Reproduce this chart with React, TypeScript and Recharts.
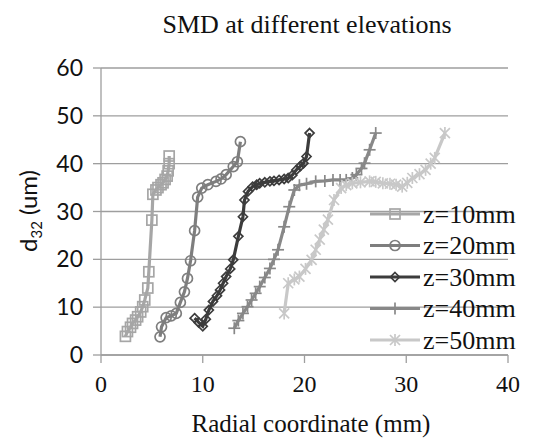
import React from "react";
import { LineChart, Line, XAxis, YAxis, CartesianGrid } from "recharts";

const xTicks = [0, 10, 20, 30, 40];
const yTicks = [0, 10, 20, 30, 40, 50, 60];

const seriesNames = ["z=10mm", "z=20mm", "z=30mm", "z=40mm", "z=50mm"];
const seriesColors = ["#a6a6a6", "#7e7e7e", "#3c3c3c", "#888888", "#c8c8c8"];

const z10x = [2.4, 2.6, 2.9, 3.1, 3.4, 3.6, 3.9, 4.1, 4.3, 4.6, 4.7, 5.0, 5.1, 5.4, 5.6, 5.9, 6.1, 6.3, 6.5, 6.6, 6.7, 6.7];
const z10y = [3.9, 4.9, 5.8, 6.6, 7.3, 8.0, 9.0, 10.1, 11.5, 14.0, 17.4, 28.2, 33.6, 34.5, 35.0, 35.6, 36.0, 36.7, 37.4, 38.5, 40.0, 41.6];

const z20x = [5.8, 5.95, 6.4, 6.9, 7.4, 7.8, 8.2, 8.5, 8.8, 9.2, 9.5, 9.9, 10.5, 11.3, 11.8, 12.3, 13.0, 13.4, 13.7];
const z20y = [3.8, 5.9, 7.8, 8.2, 8.7, 11.0, 13.2, 16.0, 19.7, 26.0, 33.0, 34.9, 35.6, 36.3, 36.8, 37.7, 39.4, 40.4, 44.6];

const z30x = [9.2, 9.6, 10.0, 10.3, 10.6, 11.0, 11.4, 11.7, 12.0, 12.3, 12.7, 13.0, 13.5, 13.95, 14.1, 14.45, 14.9, 15.3, 15.6, 16.1, 16.6, 17.0, 17.5, 18.0, 18.4, 18.8, 19.2, 19.6, 19.9, 20.2, 20.5];
const z30y = [7.7, 6.8, 6.0, 7.5, 9.4, 11.2, 12.4, 13.6, 15.0, 16.4, 18.0, 19.9, 24.8, 28.9, 32.4, 34.2, 35.2, 35.6, 35.9, 36.1, 36.3, 36.4, 36.6, 36.8, 37.0, 37.6, 38.7, 39.5, 40.1, 41.5, 46.4];

const z40x = [13.1, 13.5, 13.95, 14.4, 14.8, 15.2, 15.6, 16.1, 16.6, 17.0, 17.4, 18.0, 18.5, 19.0, 19.5, 20.2, 21.1, 22.0, 22.8, 23.5, 24.1, 24.7, 25.1, 25.6, 25.9, 26.4, 27.0];
const z40y = [5.6, 7.2, 8.7, 10.1, 11.5, 12.9, 14.3, 16.2, 18.1, 20.0, 22.0, 26.8, 31.0, 34.5, 35.5, 35.8, 36.3, 36.4, 36.6, 36.6, 36.6, 37.0, 37.7, 39.0, 40.1, 42.9, 46.4];

const z50x = [18.0, 18.4, 19.0, 19.5, 20.1, 20.7, 21.1, 21.5, 21.9, 22.3, 22.9, 23.6, 24.1, 24.7, 25.5, 26.4, 27.0, 27.7, 28.4, 29.0, 29.6, 30.1, 30.6, 31.3, 31.9, 32.4, 32.8, 33.8];
const z50y = [8.7, 15.0, 15.8, 16.4, 18.0, 19.9, 22.0, 24.1, 26.2, 28.3, 32.4, 34.9, 35.5, 35.9, 36.1, 36.3, 36.2, 35.9, 35.8, 35.6, 35.2, 36.0, 37.0, 37.8, 38.7, 40.0, 41.2, 46.4];

const toData = (xs: number[], ys: number[]) => xs.map((x, i) => ({ x, y: ys[i] }));

const seriesData = [
  toData(z10x, z10y),
  toData(z20x, z20y),
  toData(z30x, z30y),
  toData(z40x, z40y),
  toData(z50x, z50y),
];

type MarkerKind = "square" | "circle" | "diamond" | "plus" | "star";
const markerKinds: MarkerKind[] = ["square", "circle", "diamond", "plus", "star"];

function Marker({ kind, cx, cy, color }: { kind: MarkerKind; cx: number; cy: number; color: string }) {
  const sw = 1.7;
  switch (kind) {
    case "square":
      return <rect x={cx - 5} y={cy - 5} width={10} height={10} fill="none" stroke={color} strokeWidth={sw} />;
    case "circle":
      return <circle cx={cx} cy={cy} r={5} fill="none" stroke={color} strokeWidth={sw} />;
    case "diamond":
      return (
        <polygon
          points={`${cx},${cy - 4.5} ${cx + 4.5},${cy} ${cx},${cy + 4.5} ${cx - 4.5},${cy}`}
          fill="none"
          stroke={color}
          strokeWidth={sw}
        />
      );
    case "plus":
      return (
        <g stroke={color} strokeWidth={sw}>
          <line x1={cx - 6} y1={cy} x2={cx + 6} y2={cy} />
          <line x1={cx} y1={cy - 6} x2={cx} y2={cy + 6} />
        </g>
      );
    case "star":
    default:
      return (
        <g stroke={color} strokeWidth={sw}>
          <line x1={cx - 5} y1={cy - 5} x2={cx + 5} y2={cy + 5} />
          <line x1={cx - 5} y1={cy + 5} x2={cx + 5} y2={cy - 5} />
          <line x1={cx} y1={cy - 6} x2={cx} y2={cy + 6} />
        </g>
      );
  }
}

const makeDot = (kind: MarkerKind, color: string) => (props: any) => {
  const { cx, cy, index } = props;
  if (cx == null || cy == null) return <g key={`e-${index}`} />;
  return (
    <g key={`d-${kind}-${index}`}>
      <Marker kind={kind} cx={cx} cy={cy} color={color} />
    </g>
  );
};

const serif = "'Liberation Serif', 'Times New Roman', 'DejaVu Serif', serif";
const sans = "Lato, 'Liberation Sans', sans-serif";

export default function App() {
  const legendTop = [214, 245.5, 277, 308.5, 340];
  return (
    <div style={{ position: "relative", width: 542, height: 443, background: "#fff" }}>
      <style>{`body{margin:0;background:#fff}`}</style>
      <LineChart
        width={542}
        height={443}
        margin={{ top: 68, right: 34, left: 0, bottom: 0 }}
      >
        <CartesianGrid vertical={false} stroke="#9e9e9e" strokeWidth={1.3} />
        <XAxis
          type="number"
          dataKey="x"
          domain={[0, 40]}
          ticks={xTicks}
          allowDataOverflow
          height={88}
          tickSize={8}
          tickMargin={12}
          axisLine={{ stroke: "#9e9e9e", strokeWidth: 1.3 }}
          tickLine={{ stroke: "#9e9e9e", strokeWidth: 1.3 }}
          tick={{ fill: "#111", fontSize: 24, fontFamily: serif }}
        />
        <YAxis
          type="number"
          dataKey="y"
          domain={[0, 60]}
          ticks={yTicks}
          width={101}
          tickSize={8}
          tickMargin={10}
          axisLine={{ stroke: "#9e9e9e", strokeWidth: 1.3 }}
          tickLine={{ stroke: "#9e9e9e", strokeWidth: 1.3 }}
          tick={{ fill: "#111", fontSize: 23, fontFamily: sans }}
        />
        {seriesData.map((d, i) => (
          <Line
            key={seriesNames[i]}
            data={d}
            dataKey="y"
            name={seriesNames[i]}
            type="linear"
            stroke={seriesColors[i]}
            strokeWidth={3.2}
            dot={makeDot(markerKinds[i], seriesColors[i])}
            activeDot={false}
            isAnimationActive={false}
          />
        ))}
      </LineChart>
      <svg
        width={542}
        height={443}
        style={{ position: "absolute", left: 0, top: 0, pointerEvents: "none" }}
      >
        <text x={307} y={33} textAnchor="middle" fontSize={26} fontFamily={serif} fill="#111">
          SMD at different elevations
        </text>
        <text x={311} y={432} textAnchor="middle" fontSize={25} fontFamily={serif} fill="#111">
          Radial coordinate (mm)
        </text>
        <text
          transform="translate(37,211) rotate(-90)"
          textAnchor="middle"
          fontSize={24}
          fontFamily={sans}
          fill="#111"
        >
          d
          <tspan fontSize={15} dy={5}>32</tspan>
          <tspan dy={-5}> (um)</tspan>
        </text>
        {seriesNames.map((n, i) => (
          <g key={n}>
            <line x1={370} y1={legendTop[i]} x2={420} y2={legendTop[i]} stroke={seriesColors[i]} strokeWidth={3.2} />
            <Marker kind={markerKinds[i]} cx={395} cy={legendTop[i]} color={seriesColors[i]} />
            <text x={423} y={legendTop[i] + 8.5} fontSize={26} fontFamily={serif} fill="#111">
              {n}
            </text>
          </g>
        ))}
      </svg>
    </div>
  );
}
